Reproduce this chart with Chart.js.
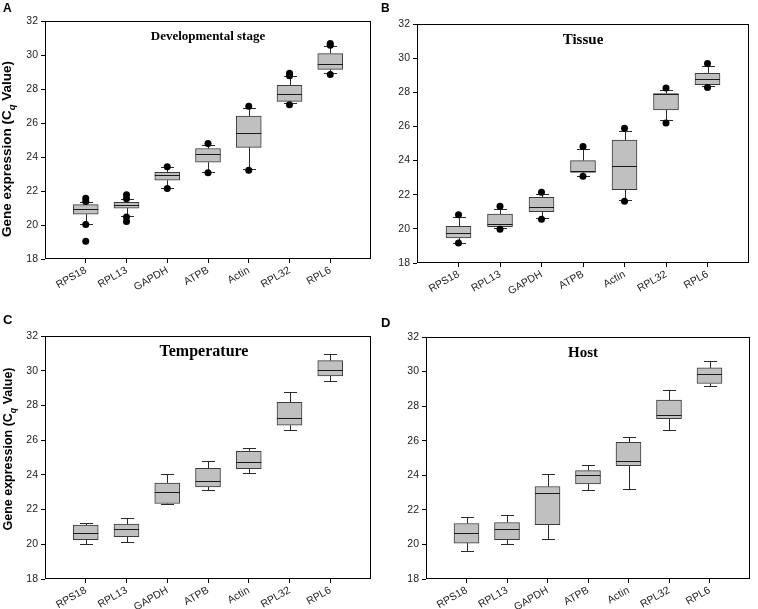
<!DOCTYPE html>
<html>
<head>
<meta charset="utf-8">
<script src="https://cdn.jsdelivr.net/npm/chart.js@4.4.1/dist/chart.umd.min.js"></script>
<style>
  body { margin:0; background:#fff; }
  #wrap { position:relative; width:758px; height:609px; overflow:hidden; background:#fff; }
  canvas { position:absolute; }
  .lbl { position:absolute; white-space:nowrap; color:#000; pointer-events:none; }
  .letter { font-family:"Liberation Sans", Arial, sans-serif; font-weight:bold; line-height:1; }
  .ttl { font-family:"Liberation Serif", "Times New Roman", serif; font-weight:bold; line-height:1; transform:translateX(-50%); }
  .ytitle { font-family:"Liberation Sans", Arial, sans-serif; font-weight:bold; line-height:1; transform:translate(-50%,-50%) rotate(-90deg); }
  .ytitle sub { font-size:70%; }
</style>
</head>
<body>
<div id="wrap">
  <canvas id="cA" width="379" height="300" style="left:0;top:0"></canvas>
  <canvas id="cB" width="379" height="300" style="left:379px;top:0"></canvas>
  <canvas id="cC" width="379" height="309" style="left:0;top:300px"></canvas>
  <canvas id="cD" width="379" height="309" style="left:379px;top:300px"></canvas>

  <div class="lbl letter" style="left:3px;top:1.5px;font-size:12px">A</div>
  <div class="lbl letter" style="left:381px;top:1.5px;font-size:12px">B</div>
  <div class="lbl letter" style="left:3px;top:313px;font-size:13px">C</div>
  <div class="lbl letter" style="left:381px;top:316px;font-size:13px">D</div>

  <div class="lbl ttl" style="left:208px;top:29px;font-size:13px">Developmental stage</div>
  <div class="lbl ttl" style="left:583px;top:31.5px;font-size:15px">Tissue</div>
  <div class="lbl ttl" style="left:204px;top:342.5px;font-size:16px">Temperature</div>
  <div class="lbl ttl" style="left:583px;top:344.5px;font-size:15px">Host</div>

  <div class="lbl ytitle" style="left:8px;top:149px;font-size:13.5px">Gene expression (C<sub><i>q</i></sub> Value)</div>
  <div class="lbl ytitle" style="left:9.5px;top:449px;font-size:12.5px">Gene expression (C<sub><i>q</i></sub> Value)</div>
</div>

<script>
const genes = ['RPS18', 'RPL13', 'GAPDH', 'ATPB', 'Actin', 'RPL32', 'RPL6'];
const yMin = 18, yMax = 32, yStep = 2;

// A - developmental stage
const devLo  = [20.04, 20.54, 22.17, 23.10, 23.30, 27.15, 28.95];
const devQ1  = [20.64, 20.99, 22.63, 23.69, 24.57, 27.27, 29.15];
const devMed = [20.93, 21.15, 22.95, 24.18, 25.43, 27.70, 29.45];
const devQ3  = [21.20, 21.33, 23.10, 24.50, 26.41, 28.22, 30.08];
const devHi  = [21.33, 21.52, 23.40, 24.72, 26.90, 28.75, 30.55];
const devOut = [[0, 21.58], [0, 21.38], [0, 20.03], [0, 19.04],
                [1, 21.78], [1, 21.55], [1, 20.47], [1, 20.21],
                [2, 23.43], [2, 22.15], [3, 24.80], [3, 23.07],
                [4, 26.98], [4, 23.22], [5, 28.93], [5, 28.78], [5, 27.07],
                [6, 30.68], [6, 30.58], [6, 28.85]];

// B - tissue
const tisLo  = [19.19, 20.04, 20.64, 23.12, 21.71, 26.35, 28.34];
const tisQ1  = [19.47, 20.13, 21.01, 23.30, 22.30, 26.96, 28.44];
const tisMed = [19.74, 20.29, 21.30, 23.40, 23.71, 27.88, 28.77];
const tisQ3  = [20.15, 20.86, 21.85, 24.00, 25.20, 27.93, 29.11];
const tisHi  = [20.68, 21.17, 22.05, 24.69, 25.74, 28.11, 29.56];
const tisOut = [[0, 20.83], [0, 19.17], [1, 21.33], [1, 19.98],
                [2, 22.15], [2, 20.56], [3, 24.82], [3, 23.08],
                [4, 25.90], [4, 21.62], [5, 28.25], [5, 26.20],
                [6, 29.68], [6, 28.28]];

// C - temperature
const tmpLo  = [20.01, 20.13, 22.30, 23.12, 24.12, 26.57, 29.43];
const tmpQ1  = [20.26, 20.44, 22.35, 23.31, 24.35, 26.86, 29.70];
const tmpMed = [20.65, 20.90, 23.02, 23.62, 24.73, 27.28, 30.02];
const tmpQ3  = [21.11, 21.16, 23.52, 24.37, 25.35, 28.18, 30.58];
const tmpHi  = [21.24, 21.51, 24.04, 24.79, 25.54, 28.76, 30.95];
const tmpOut = [];

// D - host
const hstLo  = [19.62, 20.02, 20.31, 23.15, 23.23, 26.60, 29.15];
const hstQ1  = [20.08, 20.27, 21.15, 23.50, 24.56, 27.27, 29.31];
const hstMed = [20.65, 20.88, 22.96, 24.00, 24.85, 27.46, 29.88];
const hstQ3  = [21.21, 21.27, 23.35, 24.27, 25.90, 28.35, 30.21];
const hstHi  = [21.56, 21.73, 24.08, 24.58, 26.19, 28.94, 30.62];
const hstOut = [];

const BOX_W = 25, CAP_W = 13;
const tickFont = {family: '"Liberation Sans Narrow", "Liberation Sans", Arial, sans-serif', size: 10.5};

const whiskerPlugin = {
    id: 'whiskers',
    beforeDatasetsDraw(chart, args, opts) {
        const ctx = chart.ctx, xs = chart.scales.x, ys = chart.scales.y;
        ctx.save();
        ctx.strokeStyle = '#2a2a2a';
        ctx.lineWidth = 1;
        opts.lo.forEach((lo, i) => {
            const px = Math.round(xs.getPixelForValue(i + 1)) + 0.5;
            const yLo = Math.round(ys.getPixelForValue(lo)) + 0.5;
            const yHi = Math.round(ys.getPixelForValue(opts.hi[i])) + 0.5;
            const yQ1 = ys.getPixelForValue(opts.q1[i]);
            const yQ3 = ys.getPixelForValue(opts.q3[i]);
            ctx.beginPath();
            ctx.moveTo(px, yQ3); ctx.lineTo(px, yHi);
            ctx.moveTo(px, yQ1); ctx.lineTo(px, yLo);
            ctx.moveTo(px - CAP_W / 2, yHi); ctx.lineTo(px + CAP_W / 2, yHi);
            ctx.moveTo(px - CAP_W / 2, yLo); ctx.lineTo(px + CAP_W / 2, yLo);
            ctx.stroke();
        });
        ctx.restore();
    },
    afterDatasetDraw(chart, args, opts) {
        if (args.index !== 0) return;
        const ctx = chart.ctx, xs = chart.scales.x, ys = chart.scales.y;
        ctx.save();
        ctx.strokeStyle = '#1a1a1a';
        ctx.lineWidth = 1;
        opts.med.forEach((m, i) => {
            const px = xs.getPixelForValue(i + 1);
            const py = Math.round(ys.getPixelForValue(m)) + 0.5;
            ctx.beginPath();
            ctx.moveTo(px - BOX_W / 2, py);
            ctx.lineTo(px + BOX_W / 2, py);
            ctx.stroke();
        });
        ctx.restore();
    },
    afterDraw(chart) {
        const a = chart.chartArea, ctx = chart.ctx;
        ctx.save();
        ctx.strokeStyle = '#000';
        ctx.lineWidth = 1;
        ctx.strokeRect(Math.round(a.left) + 0.5, Math.round(a.top) + 0.5,
            Math.round(a.right - a.left) - 1, Math.round(a.bottom - a.top) - 1);
        ctx.restore();
    }
};

function boxChart(id, lo, q1, med, q3, hi, out, pad, yWidth, xHeight) {
    const labels = [''].concat(genes, ['']);
    const boxes = [null].concat(genes.map((g, i) => [q1[i], q3[i]]), [null]);
    const dots = out.map(o => ({x: genes[o[0]], y: o[1]}));

    return new Chart(document.getElementById(id).getContext('2d'), {
        type: 'bar',
        data: {
            labels: labels,
            datasets: [{
                data: boxes,
                backgroundColor: '#c0c0c0',
                borderColor: '#3a3a3a',
                borderWidth: 1,
                borderSkipped: false,
                barThickness: BOX_W
            }, {
                type: 'line',
                data: dots,
                showLine: false,
                pointRadius: 3.5,
                pointHoverRadius: 3.5,
                pointBackgroundColor: '#000',
                pointBorderColor: '#000',
                pointBorderWidth: 0,
                order: -1
            }]
        },
        options: {
            responsive: false,
            animation: false,
            devicePixelRatio: 1,
            events: [],
            layout: {padding: pad},
            plugins: {
                legend: {display: false},
                tooltip: {enabled: false},
                whiskers: {lo: lo, q1: q1, med: med, q3: q3, hi: hi}
            },
            scales: {
                x: {
                    type: 'category',
                    offset: false,
                    grid: {
                        offset: false,
                        drawOnChartArea: false,
                        drawTicks: true,
                        tickLength: 4,
                        color: c => (c.index === 0 || c.index === labels.length - 1) ? 'rgba(0,0,0,0)' : '#000'
                    },
                    border: {display: false},
                    ticks: {
                        autoSkip: false,
                        minRotation: 30,
                        maxRotation: 30,
                        padding: 1,
                        color: '#222',
                        font: tickFont
                    },
                    afterFit: s => { s.height = xHeight; }
                },
                y: {
                    min: yMin,
                    max: yMax,
                    grid: {drawOnChartArea: false, drawTicks: true, tickLength: 4, color: '#000'},
                    border: {display: false},
                    ticks: {stepSize: yStep, padding: 3, color: '#222', font: tickFont},
                    afterFit: s => { s.width = yWidth; }
                }
            }
        },
        plugins: [whiskerPlugin]
    });
}

boxChart('cA', devLo, devQ1, devMed, devQ3, devHi, devOut, {top: 21, right: 8, left: 0, bottom: 0}, 45, 41);
boxChart('cB', tisLo, tisQ1, tisMed, tisQ3, tisHi, tisOut, {top: 24, right: 9, left: 0, bottom: 0}, 38, 37);
boxChart('cC', tmpLo, tmpQ1, tmpMed, tmpQ3, tmpHi, tmpOut, {top: 36, right: 8, left: 0, bottom: 0}, 45, 30);
boxChart('cD', hstLo, hstQ1, hstMed, hstQ3, hstHi, hstOut, {top: 37, right: 8, left: 0, bottom: 0}, 47, 30);
</script>
</body>
</html>
